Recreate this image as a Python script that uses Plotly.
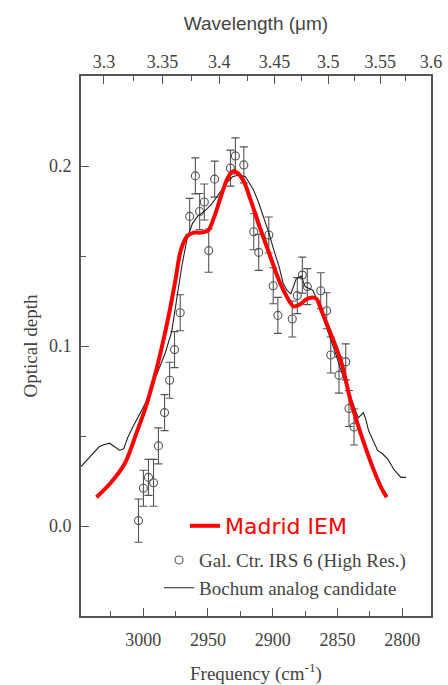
import plotly.graph_objects as go

# ---------------- data ----------------
# Madrid IEM model curve (frequency cm^-1, optical depth)
iem_freq = [3036, 3025, 3014, 3005, 2998, 2992, 2988, 2980, 2975, 2971, 2966, 2961,
            2956, 2950, 2945, 2940, 2935, 2931, 2927, 2922, 2917, 2910, 2902, 2896,
            2891, 2884, 2879, 2874, 2869, 2866, 2862, 2857, 2852, 2847, 2840, 2835,
            2830, 2823, 2816, 2812]
iem_tau = [0.016, 0.024, 0.035, 0.052, 0.066, 0.081, 0.092, 0.118, 0.137, 0.153, 0.161, 0.163,
           0.163, 0.164, 0.172, 0.183, 0.193, 0.197, 0.196, 0.191, 0.181, 0.166, 0.150, 0.138,
           0.130, 0.122, 0.123, 0.126, 0.127, 0.126, 0.119, 0.110, 0.101, 0.091, 0.070, 0.058,
           0.047, 0.033, 0.021, 0.016]

# Bochum analog candidate (lab spectrum)
boch_freq = [3048, 3043, 3039, 3034, 3031, 3026, 3022, 3018, 3015, 3012, 3008, 3002,
             2997, 2993, 2988, 2983, 2978, 2975, 2972, 2970, 2966, 2962, 2958, 2954,
             2951, 2947, 2943, 2939, 2935, 2931, 2926, 2921, 2917, 2915, 2911, 2907,
             2903, 2899, 2895, 2892, 2889, 2886, 2884, 2882, 2878, 2875, 2872, 2869,
             2866, 2863, 2859, 2855, 2851, 2848, 2844, 2840, 2836, 2834, 2830, 2828,
             2826, 2822, 2819, 2815, 2811, 2806, 2801, 2797]
boch_tau = [0.033, 0.037, 0.040, 0.044, 0.045, 0.046, 0.044, 0.042, 0.043, 0.049, 0.055, 0.063,
            0.070, 0.078, 0.087, 0.096, 0.108, 0.122, 0.138, 0.145, 0.160, 0.168, 0.172, 0.174,
            0.176, 0.179, 0.183, 0.187, 0.191, 0.194, 0.195, 0.194, 0.189, 0.187, 0.180, 0.172,
            0.163, 0.153, 0.144, 0.135, 0.131, 0.129, 0.133, 0.137, 0.139, 0.133, 0.132, 0.131,
            0.126, 0.120, 0.111, 0.103, 0.095, 0.088, 0.080, 0.072, 0.065, 0.060, 0.063, 0.059,
            0.053, 0.047, 0.042, 0.040, 0.037, 0.031, 0.027, 0.027]

# Gal. Ctr. IRS 6 (High Res.) observations
obs_freq = [3003.6, 2999.8, 2995.9, 2992.0, 2988.2, 2983.5, 2979.6, 2975.8, 2971.4, 2964.1,
            2959.7, 2956.4, 2952.8, 2949.4, 2944.8, 2932.6, 2928.8, 2922.3, 2914.6, 2910.8,
            2903.0, 2899.6, 2896.0, 2884.9, 2881.0, 2877.1, 2873.3, 2862.9, 2858.3, 2855.2,
            2848.8, 2843.6, 2841.1, 2837.2]
obs_tau = [0.003, 0.021, 0.027, 0.024, 0.0445, 0.063, 0.081, 0.098, 0.1185, 0.172,
           0.1945, 0.1747, 0.180, 0.153, 0.1927, 0.1988, 0.2056, 0.2006, 0.1635, 0.152,
           0.1617, 0.1335, 0.117, 0.115, 0.128, 0.1394, 0.133, 0.1307, 0.1196, 0.095,
           0.0838, 0.0912, 0.0653, 0.055]
obs_err = [0.012, 0.010, 0.010, 0.013, 0.010, 0.010, 0.010, 0.010, 0.010, 0.010,
           0.010, 0.010, 0.010, 0.012, 0.010, 0.010, 0.010, 0.010, 0.010, 0.010,
           0.010, 0.010, 0.010, 0.010, 0.010, 0.010, 0.010, 0.010, 0.010, 0.010,
           0.010, 0.010, 0.010, 0.010]

freq_ticks = [3000, 2950, 2900, 2850, 2800]
tau_ticks = [0.0, 0.1, 0.2]
wl_major = [3.3, 3.35, 3.4, 3.45, 3.5, 3.55, 3.6]
wl_labels = ["3.3", "3.35", "3.4", "3.45", "3.5", "3.55", "3.6"]
wl_minor = [3.325, 3.375, 3.425, 3.475, 3.525, 3.575]

x_range = [3048, 10000 / 3.6]
y_range = [-0.05, 0.25]

SERIF = "Liberation Serif, Times New Roman, serif"
SANS = "Liberation Sans, Arial, sans-serif"
TXT = "#444444"
AX = "#555555"

fig = go.Figure()

fig.add_trace(go.Scatter(
    x=obs_freq, y=obs_tau, mode="markers",
    marker=dict(symbol="circle-open", size=8, color="#555555", line=dict(width=1.1, color="#555555")),
    error_y=dict(type="data", array=obs_err, color="#555555", thickness=1.1, width=4),
    name="Gal. Ctr. IRS 6 (High Res.)", legend="legend2",
))
fig.add_trace(go.Scatter(
    x=boch_freq, y=boch_tau, mode="lines",
    line=dict(color="#222222", width=1.1),
    name="Bochum analog candidate", legend="legend2",
))
fig.add_trace(go.Scatter(
    x=iem_freq, y=iem_tau, mode="lines",
    line=dict(color="#ff0000", width=4, shape="spline", smoothing=0.8),
    name="Madrid IEM", legend="legend",
))
# invisible trace to carry the top wavelength axis
fig.add_trace(go.Scatter(
    x=x_range, y=y_range, xaxis="x2", mode="markers",
    marker=dict(opacity=0), showlegend=False, hoverinfo="skip",
))

fig.update_layout(
    width=448, height=685,
    margin=dict(l=81, r=17, t=76, b=69, autoexpand=False),
    paper_bgcolor="white", plot_bgcolor="white",
    font=dict(family=SERIF, size=18, color=TXT),
    xaxis=dict(
        range=x_range, showgrid=False, zeroline=False, automargin=False,
        showline=True, linecolor=AX, linewidth=2,
        tickmode="array", tickvals=freq_ticks,
        ticks="inside", ticklen=8, tickwidth=1.3, tickcolor=AX,
        minor=dict(dtick=25, tick0=3000, ticks="inside", ticklen=5, tickwidth=1.3, tickcolor=AX),
        tickfont=dict(family=SERIF, size=18, color=TXT),
        ticklabelstandoff=6,
        title=dict(text="Frequency (cm<sup>-1</sup>)", font=dict(family=SERIF, size=19, color=TXT), standoff=24),
    ),
    xaxis2=dict(
        range=x_range, overlaying="x", side="top", anchor="y", automargin=False,
        showgrid=False, zeroline=False,
        showline=True, linecolor=AX, linewidth=2,
        tickmode="array", tickvals=[10000 / w for w in wl_major], ticktext=wl_labels,
        ticks="inside", ticklen=8, tickwidth=1.3, tickcolor=AX,
        minor=dict(tickvals=[10000 / w for w in wl_minor], ticks="inside", ticklen=5, tickwidth=1.3, tickcolor=AX),
        tickfont=dict(family=SERIF, size=18, color=TXT),
        ticklabelstandoff=-1,
        title=dict(text="Wavelength (μm)", font=dict(family=SANS, size=19, color=TXT), standoff=16),
    ),
    yaxis=dict(
        range=y_range, showgrid=False, zeroline=False, automargin=False,
        showline=True, linecolor=AX, linewidth=2, mirror=True,
        tickmode="array", tickvals=tau_ticks, tickformat=".1f",
        ticks="inside", ticklen=8, tickwidth=1.3, tickcolor=AX,
        minor=dict(dtick=0.05, tick0=0, ticks="inside", ticklen=5, tickwidth=1.3, tickcolor=AX),
        tickfont=dict(family=SERIF, size=18, color=TXT),
        ticklabelstandoff=4,
        title=dict(text="Optical depth", font=dict(family=SERIF, size=19, color=TXT), standoff=6),
    ),
    legend=dict(
        x=0.297, y=0.2056, xanchor="left", yanchor="top",
        bgcolor="rgba(0,0,0,0)", borderwidth=0,
        font=dict(family="DejaVu Sans, Verdana, sans-serif", size=22, color="#ff0000"),
    ),
    legend2=dict(
        x=0.223, y=0.1385, xanchor="left", yanchor="top",
        bgcolor="rgba(0,0,0,0)", borderwidth=0,
        traceorder="normal",
        font=dict(family=SERIF, size=19, color=TXT),
    ),
    showlegend=True,
)

fig.write_html("out.html")
